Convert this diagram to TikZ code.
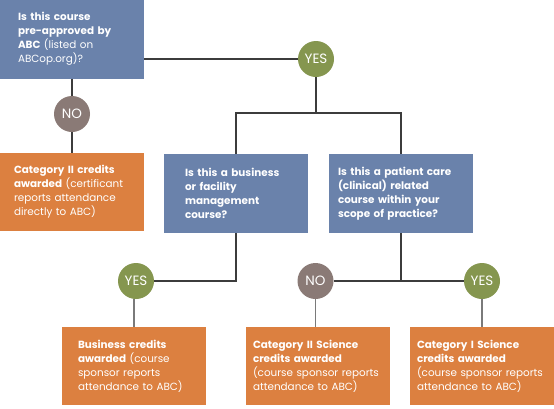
\documentclass[tikz,border=0pt]{standalone}
\usepackage{fontspec}
\setmainfont{Poppins}
\usepackage{xcolor}
\definecolor{qblue}{HTML}{6A82AB}
\definecolor{aorange}{HTML}{DC8040}
\definecolor{ygreen}{HTML}{85964F}
\definecolor{nbrown}{HTML}{8A7A76}
\definecolor{darkline}{HTML}{3C3C3C}
\definecolor{softline}{HTML}{7A7A7A}

\begin{document}
\begin{tikzpicture}[x=1pt, y=-1pt,
    question/.style={fill=qblue, text=white, minimum width=144pt, minimum height=79pt,
        inner sep=0pt, align=left, font=\fontsize{10.4}{14}\selectfont},
    award/.style={question, fill=aorange},
    yesdot/.style={circle, fill=ygreen, text=white, minimum size=36pt, inner sep=0pt,
        font=\fontsize{13.5}{14}\selectfont},
    nodot/.style={yesdot, fill=nbrown},
    link/.style={draw=darkline, line width=1.2pt},
    leg/.style={draw=softline, line width=1.6pt}]
        \useasboundingbox[fill=white] (0,0) rectangle (554,408);
        % Perguntas (azul)
        \node[question, text width=108pt] (q1) at (72,39)
            {\textbf{Is this course}\\\textbf{pre-approved by}\\\textbf{ABC} (listed on\\ABCop.org)?};
        \node[question, text width=102pt] (q2) at (236,193.5)
            {\textbf{Is this a business}\\\textbf{or facility}\\\textbf{management}\\\textbf{course?}};
        \node[question, text width=126pt] (q3) at (401,193.5)
            {\textbf{Is this a patient care}\\\textbf{(clinical) related}\\\textbf{course within your}\\\textbf{scope of practice?}};
        % Resultados (laranja)
        \node[award, text width=116pt, minimum height=78pt] (cat2) at (72,192)
            {\textbf{Category II credits}\\\textbf{awarded} (certificant\\reports attendance\\directly to ABC)};
        \node[award, text width=112pt, minimum height=78pt] (bus) at (134,366)
            {\textbf{Business credits}\\\textbf{awarded} (course\\sponsor reports\\attendance to ABC)};
        \node[award, text width=130pt, minimum height=78pt] (sci2) at (318,366)
            {\textbf{Category II Science}\\\textbf{credits awarded}\\(course sponsor reports\\attendance to ABC)};
        \node[award, text width=130pt, minimum height=78pt] (sci1) at (482,366)
            {\textbf{Category I Science}\\\textbf{credits awarded}\\(course sponsor reports\\attendance to ABC)};
        % Respostas
        \node[yesdot] (yes1) at (316,59) {YES};
        \node[nodot] (no1) at (72,114) {NO};
        \node[yesdot] (yes2) at (136,281) {YES};
        \node[nodot] (no2) at (315.5,281) {NO};
        \node[yesdot] (yes3) at (482,281) {YES};
        % Ligações
        \coordinate (split1) at (316,113);
        \coordinate (split2) at (q3.south |- no2);
        \draw[link] (q1.east |- yes1.west) -- (yes1.west);
        \draw[link] (yes1.south) -- (split1);
        \draw[link] (q2.north) |- (split1) -| (q3.north);
        \draw[link] (q1.south) -- (no1.north);
        \draw[link] (no1.south) -- (cat2.north);
        \draw[link] (q2.south) |- (yes2.east);
        \draw[link] (q3.south) -- (split2);
        \draw[link] (no2.east) -- (yes3.west);
        \draw[leg] (bus.north) -- (bus.north |- yes2.south);
        \draw[leg] (no2.south) -- (sci2.north -| no2.south);
        \draw[leg] (yes3.south) -- (sci1.north);
    \end{tikzpicture}
\end{document}
